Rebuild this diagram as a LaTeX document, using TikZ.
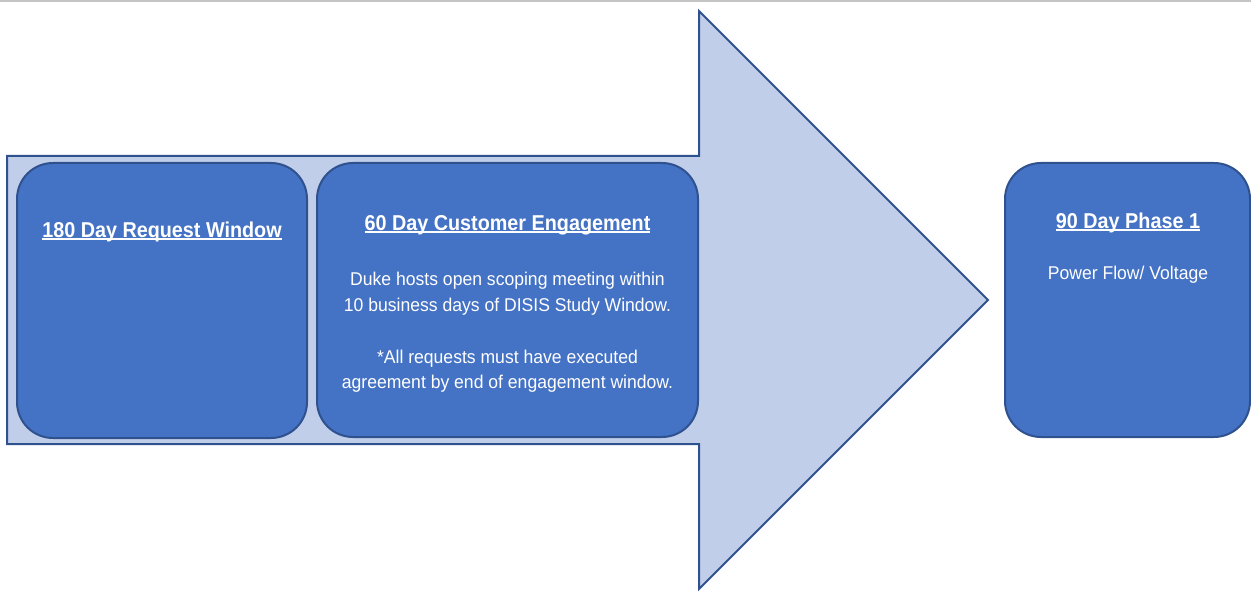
\documentclass[tikz,border=0pt]{standalone}
\usepackage{fontspec}
\setmainfont{Liberation Sans}
\newfontfamily\titlefont{Liberation Sans}[FakeStretch=0.92]
\newfontfamily\bodyfont{Liberation Sans}[FakeStretch=0.95]
\definecolor{boxfill}{HTML}{4472C4}
\definecolor{boxline}{HTML}{2F528F}
\definecolor{arrowfill}{HTML}{C0CEEA}
\definecolor{topgray}{HTML}{C4C4C4}
\newcommand\myul[1]{\setbox0\hbox{#1}\rlap{\rule[-3pt]{\wd0}{1.8pt}}\box0}
\tikzset{
  stagebox/.style={draw=boxline, fill=boxfill, line width=2pt, rounded corners=36pt, inner sep=0pt},
  bigarrow/.style={draw=boxline, fill=arrowfill, line width=2pt, line join=miter},
  titletext/.style={text=white, font=\titlefont\fontsize{21.5}{24}\selectfont\bfseries, inner sep=0pt, anchor=base},
  bodytext/.style={text=white, font=\bodyfont\fontsize{18.5}{26}\selectfont, inner sep=0pt, anchor=base},
}
\begin{document}
\begin{tikzpicture}[x=1pt,y=-1pt]
\useasboundingbox (0,0) rectangle (1251,591);
\draw[topgray, line width=2.5pt] (0,0.5) -- (1251,0.5);
\draw[bigarrow] (7,156) -- (699,156) -- (699,11) -- (988,300) -- (699,589) -- (699,444) -- (7,444) -- cycle;
\node[stagebox, minimum width=290pt, minimum height=275pt] (b1) at (162,300.5) {};
\node[stagebox, minimum width=381pt, minimum height=274pt] (b2) at (507.5,300) {};
\node[stagebox, minimum width=245pt, minimum height=274pt] (b3) at (1127.5,300) {};
\node[titletext] (t1) at (162,237) {\myul{180 Day Request Window}};
\node[titletext] (t2) at (507.5,230) {\myul{60 Day Customer Engagement}};
\node[bodytext] (l1) at (507.5,285) {Duke hosts open scoping meeting within};
\node[bodytext] (l2) at (507.5,311) {10 business days of DISIS Study Window.};
\node[bodytext] (l3) at (507.5,363) {*All requests must have executed};
\node[bodytext] (l4) at (507.5,388) {agreement by end of engagement window.};
\node[titletext] (t3) at (1128,228) {\myul{90 Day Phase 1}};
\node[bodytext] (l5) at (1128,279) {Power Flow/ Voltage};
\end{tikzpicture}
\end{document}
